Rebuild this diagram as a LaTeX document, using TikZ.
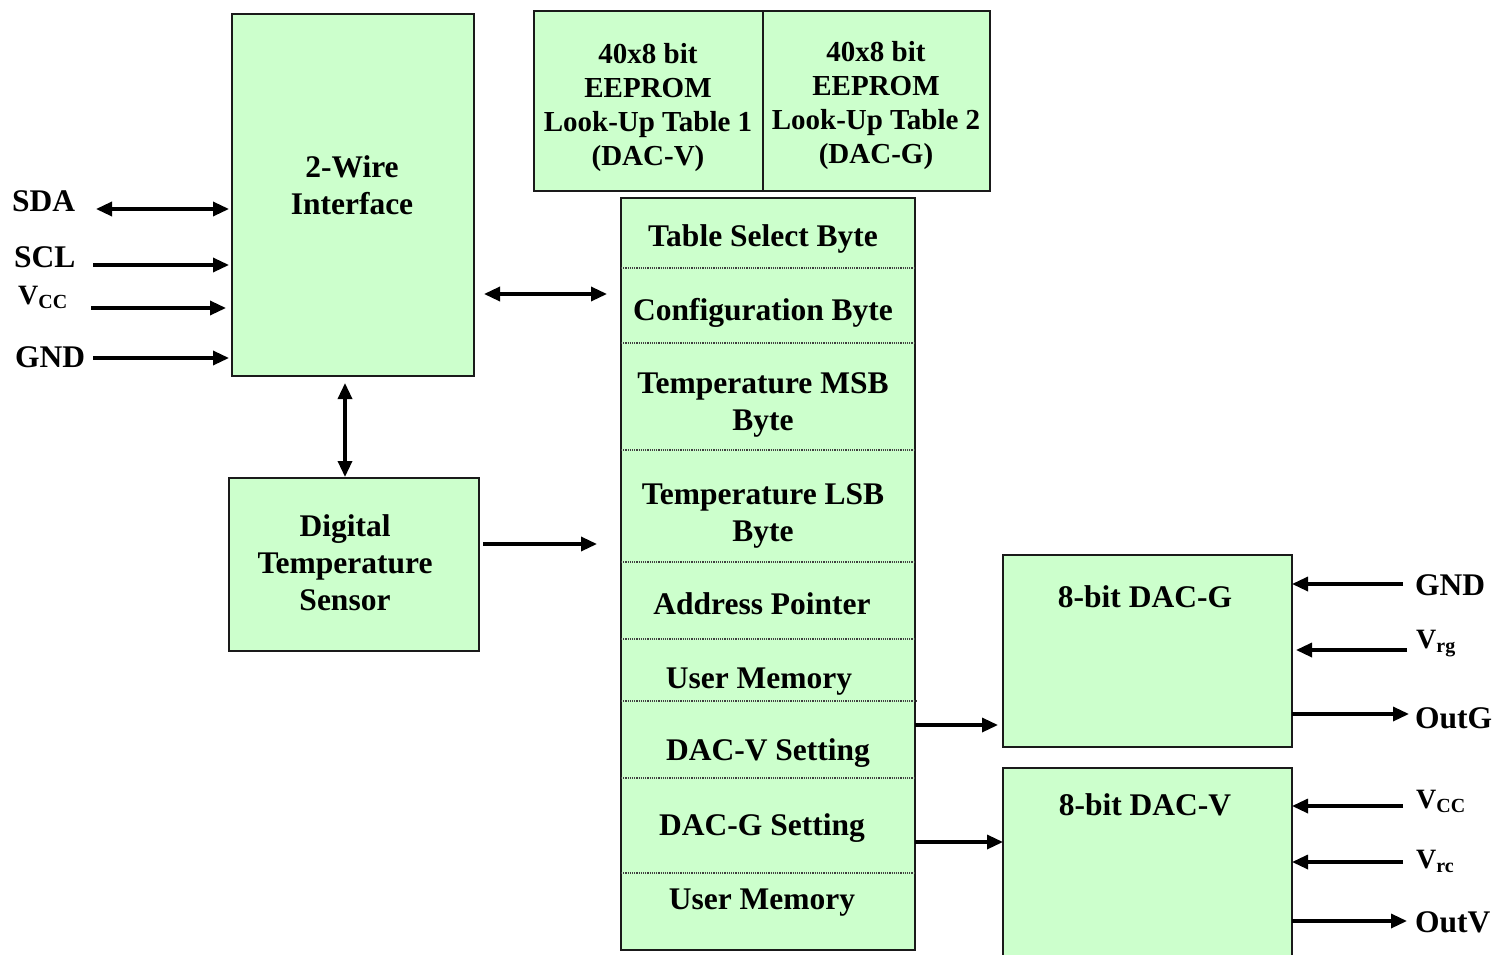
\documentclass[tikz,border=0pt]{standalone}
\usepackage{fontspec}
\setmainfont{Liberation Serif}
\usetikzlibrary{arrows.meta}
\definecolor{boxgreen}{HTML}{CCFFCC}
\definecolor{edgecol}{HTML}{1A1A1A}
\newcommand\Vsub[1]{{\fontsize{28}{28}\selectfont V}\raisebox{-4pt}{\fontsize{20}{20}\selectfont #1}}
\begin{document}
\begin{tikzpicture}[x=1pt,y=-1pt,
  blk/.style={draw=edgecol,line width=2.5pt,fill=boxgreen,inner sep=0pt,outer sep=0pt},
  txt/.style={inner sep=0pt,align=center,font=\bfseries\fontsize{31.5}{37}\selectfont},
  eetxt/.style={inner sep=0pt,align=center,font=\bfseries\fontsize{29}{34}\selectfont},
  pin/.style={inner sep=0pt,anchor=base west,font=\bfseries\fontsize{31.5}{37}\selectfont},
  sig/.style={line width=3.3pt,-{Triangle[length=16pt,width=14pt]}},
  bisig/.style={line width=3.3pt,{Triangle[length=16pt,width=14pt]}-{Triangle[length=16pt,width=14pt]}},
  divider/.style={draw=black!75,line width=1.2pt,densely dotted}]
\clip (0,0) rectangle (1496,955);
\fill[white] (0,0) rectangle (1496,955);

% blocks
\node[blk,minimum width=242pt,minimum height=362pt] (iface) at (353,195) {};
\node[txt] (ifaceT) at (352,185) {2-Wire\\Interface};

\node[blk,minimum width=229pt,minimum height=180pt] (eep1) at (648.5,101) {};
\node[eetxt] (eep1T) at (648,108) {40x8 bit\\EEPROM\\Look-Up Table 1\\(DAC-V)};
\node[blk,minimum width=227pt,minimum height=180pt] (eep2) at (876.5,101) {};
\node[eetxt] (eep2T) at (876,105.5) {40x8 bit\\EEPROM\\Look-Up Table 2\\(DAC-G)};

\node[blk,minimum width=294pt,minimum height=752pt] (stack) at (768,574) {};
\foreach \yy in {268,343,450,562,639,778,873}
  \draw[divider] (621,\yy) -- (915,\yy);
\draw[divider] (621,701) -- (918,701);
\node[txt] (r1) at (763,239) {Table Select Byte};
\node[txt] (r2) at (763,313) {Configuration Byte};
\node[txt] (r3) at (763,404.5) {Temperature MSB\\Byte};
\node[txt] (r4) at (763,515.5) {Temperature LSB\\Byte};
\node[txt] (r5) at (762,604) {Address Pointer};
\node[txt] (r6) at (759,682) {User Memory};
\node[txt] (r7) at (768,753) {DAC-V Setting};
\node[txt] (r8) at (762,828) {DAC-G Setting};
\node[txt] (r9) at (762,903) {User Memory};

\node[blk,minimum width=250pt,minimum height=173pt] (sensor) at (354,564.5) {};
\node[txt] (sensorT) at (345,563) {Digital\\Temperature\\Sensor};

\node[blk,minimum width=289pt,minimum height=192pt] (dacg) at (1147.5,651) {};
\node[txt] (dacgT) at (1145,597) {8-bit DAC-G};
\node[blk,minimum width=289pt,minimum height=210pt] (dacv) at (1147.5,873) {};
\node[txt] (dacvT) at (1145,805) {8-bit DAC-V};

% left pins
\node[pin] (lSDA) at (12,211) {SDA};
\node[pin] (lSCL) at (14,267) {SCL};
\node[pin] (lVcc) at (18,304) {\Vsub{CC}};
\node[pin] (lGND) at (15,367) {GND};
\coordinate (cSDA) at (96,209);
\coordinate (cSCL) at (93,265);
\coordinate (cVcc) at (91,308);
\coordinate (cGND) at (93,358);
\draw[bisig,shorten >=3pt] (cSDA) -- (cSDA -| iface.west);
\draw[sig,shorten >=3pt] (cSCL) -- (cSCL -| iface.west);
\draw[sig,shorten >=6pt] (cVcc) -- (cVcc -| iface.west);
\draw[sig,shorten >=3pt] (cGND) -- (cGND -| iface.west);

% internal connections
\coordinate (cBus) at (484,294);
\draw[bisig,shorten >=14pt] (cBus) -- (cBus -| stack.west);
\draw[bisig,shorten <=7pt,shorten >=1pt] ([xshift=-8pt]iface.south) -- ([xshift=-9pt]sensor.north);
\coordinate (cTs) at (483,544);
\draw[sig,shorten >=24pt] (cTs) -- (cTs -| stack.west);
\coordinate (cS1) at (915,725);
\draw[sig,shorten >=5pt] (cS1) -- (cS1 -| dacg.west);
\coordinate (cS2) at (915,842);
\draw[sig] (cS2) -- (cS2 -| dacv.west);

% right pins
\node[pin] (rGND) at (1415,595) {GND};
\node[pin] (rVrg) at (1416,648) {\Vsub{rg}};
\node[pin] (rOutG) at (1415,728) {OutG};
\node[pin] (rVcc) at (1416,808) {\Vsub{CC}};
\node[pin] (rVrc) at (1416,868) {\Vsub{rc}};
\node[pin] (rOutV) at (1415,932) {OutV};
\coordinate (cGg) at (1403,584);
\coordinate (cVrg) at (1407,650);
\coordinate (cOutG) at (1409,714);
\coordinate (cVv) at (1403,806);
\coordinate (cVrc) at (1403,862);
\coordinate (cOutV) at (1407,921);
\draw[sig] (cGg) -- (cGg -| dacg.east);
\draw[sig,shorten >=4pt] (cVrg) -- (cVrg -| dacg.east);
\draw[sig] (cOutG -| dacg.east) -- (cOutG);
\draw[sig] (cVv) -- (cVv -| dacv.east);
\draw[sig] (cVrc) -- (cVrc -| dacv.east);
\draw[sig] (cOutV -| dacv.east) -- (cOutV);
\end{tikzpicture}
\end{document}
